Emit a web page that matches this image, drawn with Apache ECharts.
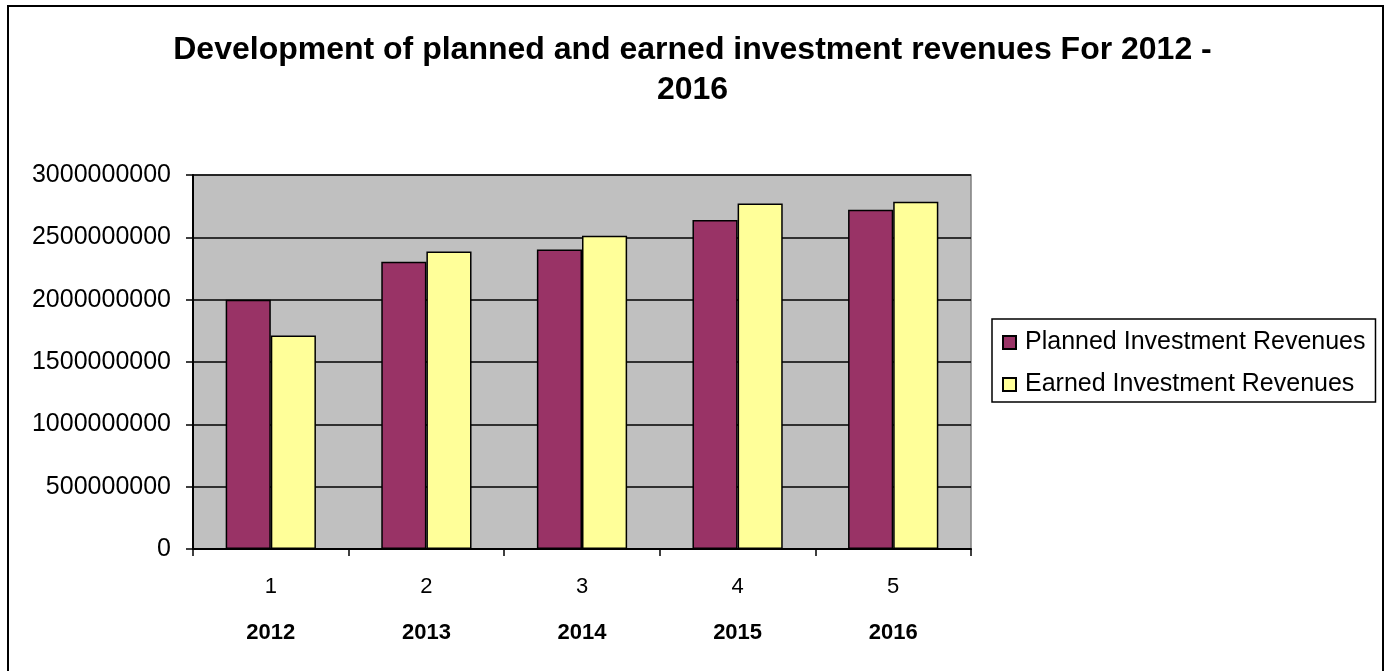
<!DOCTYPE html>
<html>
<head>
<meta charset="utf-8">
<script src="https://cdn.jsdelivr.net/npm/echarts@6/dist/echarts.min.js"></script>
<style>
  html, body { margin: 0; padding: 0; background: #fff; }
  #chart { width: 1385px; height: 671px; }
</style>
</head>
<body>
<div id="chart"></div>
<script>
// 数据
const categories = ['1', '2', '3', '4', '5']
const years = ['2012', '2013', '2014', '2015', '2016']
const planned = [2000000000, 2305000000, 2402000000, 2640000000, 2721000000]
const earned = [1712000000, 2386000000, 2512000000, 2771000000, 2785000000]

const myChart = echarts.init(document.getElementById('chart'))
const font = 'Liberation Sans, Arial, sans-serif'
const option = {
  animation: false,
  textStyle: { fontFamily: font, color: '#000' },
  title: {
    text: 'Development of planned and earned investment revenues For 2012 -\n2016',
    left: 'center',
    top: 30,
    padding: 0,
    textStyle: { fontSize: 32, fontWeight: 'bold', lineHeight: 40, color: '#000', fontFamily: font }
  },
  // 外框
  graphic: [{
    type: 'rect',
    shape: { x: 8, y: 6, width: 1375, height: 700 },
    style: { fill: 'none', stroke: '#000', lineWidth: 2 },
    silent: true
  }],
  legend: {
    orient: 'vertical',
    left: 992,
    top: 319,
    padding: [11, 10, 5, 10],
    itemGap: 17,
    itemWidth: 13,
    itemHeight: 13,
    icon: 'rect',
    borderColor: '#000',
    borderWidth: 1.5,
    textStyle: { fontSize: 25, color: '#000', fontFamily: font, padding: [0, 0, 0, 4] },
    data: ['Planned Investment Revenues', 'Earned Investment Revenues']
  },
  grid: {
    left: 193,
    right: 414,
    top: 175,
    bottom: 122,
    show: true,
    backgroundColor: '#c0c0c0',
    borderColor: '#808080',
    borderWidth: 1.5
  },
  xAxis: {
    type: 'category',
    data: categories,
    axisLine: { lineStyle: { color: '#000', width: 2 } },
    axisTick: { show: true, length: 7, lineStyle: { color: '#000', width: 1.5 } },
    axisLabel: {
      margin: 15,
      formatter: (val, i) => '{n|' + val + '}\n{y|' + years[i] + '}',
      rich: {
        n: { fontSize: 22, lineHeight: 46, color: '#000', fontFamily: font },
        y: { fontSize: 22, lineHeight: 46, fontWeight: 'bold', color: '#000', fontFamily: font }
      }
    }
  },
  yAxis: {
    type: 'value',
    min: 0,
    max: 3000000000,
    interval: 500000000,
    axisLine: { show: true, lineStyle: { color: '#000', width: 2 } },
    axisTick: { show: true, length: 7, lineStyle: { color: '#000', width: 1.5 } },
    axisLabel: { fontSize: 25, color: '#000', margin: 22, fontFamily: font, formatter: v => String(v) },
    splitLine: { lineStyle: { color: '#000', width: 1.5 } }
  },
  series: [
    {
      name: 'Planned Investment Revenues',
      type: 'bar',
      data: planned,
      barGap: '0%',
      barCategoryGap: '42%',
      itemStyle: { color: '#993366', borderColor: '#000', borderWidth: 1.5 }
    },
    {
      name: 'Earned Investment Revenues',
      type: 'bar',
      data: earned,
      itemStyle: { color: '#ffff99', borderColor: '#000', borderWidth: 1.5 }
    }
  ]
}
myChart.setOption(option)
</script>
</body>
</html>
